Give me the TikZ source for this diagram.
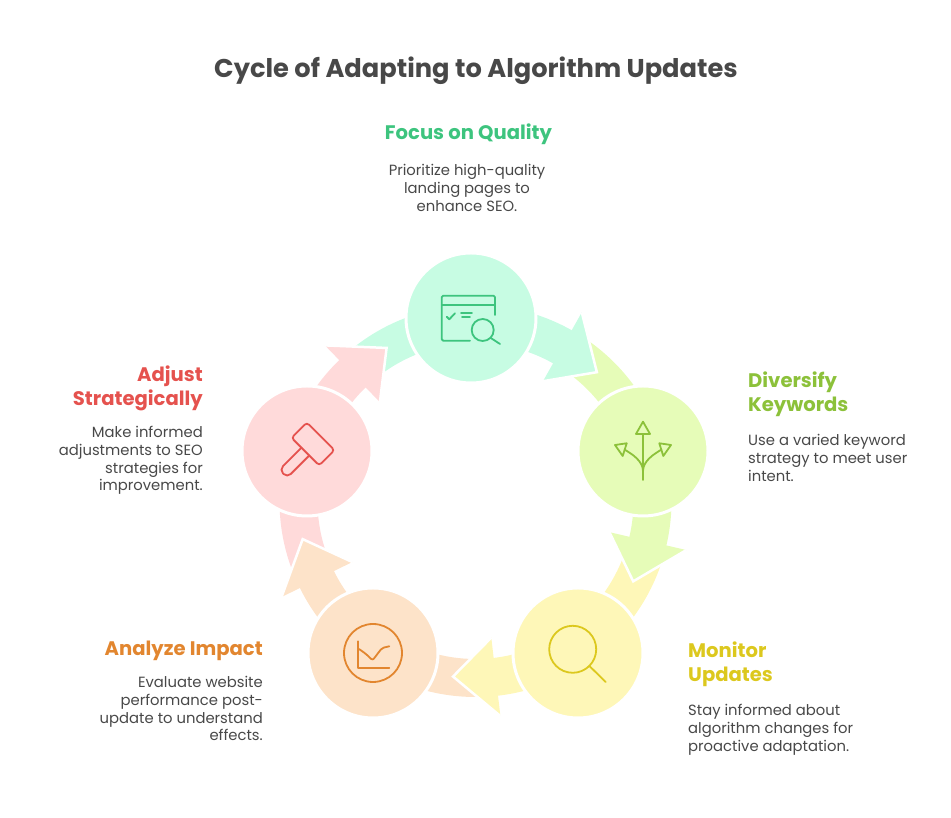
\documentclass[tikz,border=0pt]{standalone}
\usepackage{fontspec}
\setmainfont{Poppins}
\definecolor{mintF}{HTML}{C7FCE3}
\definecolor{mintD}{HTML}{3DC47E}
\definecolor{limeF}{HTML}{E6FCB8}
\definecolor{limeD}{HTML}{8CC13A}
\definecolor{yellF}{HTML}{FEF7B8}
\definecolor{yellD}{HTML}{DCC81E}
\definecolor{peachF}{HTML}{FDE3C9}
\definecolor{peachD}{HTML}{E2862F}
\definecolor{pinkF}{HTML}{FFDADA}
\definecolor{pinkD}{HTML}{E5524E}
\definecolor{textgray}{HTML}{484848}
\begin{document}
\begin{tikzpicture}[x=1pt,y=1pt,
  ring/.style={circle,draw=white,line width=3pt,minimum size=130pt,inner sep=0pt},
  icon/.style={line width=1.8pt,line cap=round,line join=round},
  headtext/.style={font=\bfseries\fontsize{19.6}{24}\selectfont,inner sep=0pt},
  desctext/.style={font=\fontsize{14.8}{17.8}\selectfont,text=textgray,inner sep=0pt}]
\useasboundingbox (0,0) rectangle (951,818);
\coordinate (nodeHub) at (475.5,317);
%bands
\begin{scope}[shift={(nodeHub)}]
\fill[mintF] (129.45:158) arc[start angle=129.45,end angle=59.5,radius=158] -- (59.5:196) arc[start angle=59.5,end angle=129.45,radius=196] -- cycle;
\fill[limeF] (56:158) arc[start angle=56,end angle=-14.2,radius=158] -- (-14.2:196) arc[start angle=-14.2,end angle=56,radius=196] -- cycle;
\fill[yellF] (-17.7:158) arc[start angle=-17.7,end angle=-84.5,radius=158] -- (-84.5:196) arc[start angle=-84.5,end angle=-17.7,radius=196] -- cycle;
\fill[peachF] (-88:158) arc[start angle=-88,end angle=-154.75,radius=158] -- (-154.75:196) arc[start angle=-154.75,end angle=-88,radius=196] -- cycle;
\fill[pinkF] (201.75:158) arc[start angle=201.75,end angle=132.95,radius=158] -- (132.95:196) arc[start angle=132.95,end angle=201.75,radius=196] -- cycle;
%heads
\fill[mintF] (60.6:137.5) -- (46.7:177) -- (60.6:216.5) -- cycle;
\draw[white,line width=2.5pt] (60.6:137.5) -- (46.7:177) -- (60.6:216.5);
\fill[limeF] (-13.1:137.5) -- (-27:177) -- (-13.1:216.5) -- cycle;
\draw[white,line width=2.5pt] (-13.1:137.5) -- (-27:177) -- (-13.1:216.5);
\fill[yellF] (-83.4:137.5) -- (-97.3:177) -- (-83.4:216.5) -- cycle;
\draw[white,line width=2.5pt] (-83.4:137.5) -- (-97.3:177) -- (-83.4:216.5);
\fill[peachF] (206.35:137.5) -- (192.45:177) -- (206.35:216.5) -- cycle;
\draw[white,line width=2.5pt] (206.35:137.5) -- (192.45:177) -- (206.35:216.5);
\fill[pinkF] (134.05:137.5) -- (120.15:177) -- (134.05:216.5) -- cycle;
\draw[white,line width=2.5pt] (134.05:137.5) -- (120.15:177) -- (134.05:216.5);
\end{scope}
%circles
\path (471,500) node[ring,fill=mintF] (nodeFocus) {};
\path (643,367) node[ring,fill=limeF] (nodeDiversify) {};
\path (578,165) node[ring,fill=yellF] (nodeMonitor) {};
\path (373,165) node[ring,fill=peachF] (nodeAnalyze) {};
\path (307,367) node[ring,fill=pinkF] (nodeAdjust) {};
%icons
\begin{scope}[shift={(nodeFocus)}]
\draw[icon,mintD,rounded corners=1.5] (-1,-22.7) -- (-29.3,-22.7) -- (-29.3,22.3) -- (24,22.3) -- (24,3);
\draw[icon,mintD] (-29.3,13) -- (24,13);
\draw[icon,mintD] (-24.3,1.3) -- (-21.7,-1.3) -- (-16,4.7);
\draw[icon,mintD] (-10,5.3) -- (1,5.3) (-9,1.3) -- (-1,1.3);
\draw[icon,mintD] (11.7,-12) circle[radius=11];
\draw[icon,mintD] (19.5,-19.8) -- (29,-26);
\end{scope}
\begin{scope}[shift={(nodeDiversify)}]
\draw[icon,limeD] (0,-29) -- (0,17);
\draw[icon,limeD] (0,29.3) -- (-7,17) -- (7,17) -- cycle;
\draw[icon,limeD] (0,-20) .. controls (0,-10) and (-11,-3) .. (-18.3,1.3);
\draw[icon,limeD] (0,-20) .. controls (0,-10) and (11,-3) .. (18.3,1.3);
\draw[icon,limeD] (-28,6) -- (-16.3,7.7) -- (-20.3,-5) -- cycle;
\draw[icon,limeD] (28,6) -- (16.3,7.7) -- (20.3,-5) -- cycle;
\end{scope}
\begin{scope}[shift={(nodeMonitor)}]
\draw[icon,yellD] (-5.3,3.7) circle[radius=23.5];
\draw[icon,yellD] (11.3,-12.9) -- (27.7,-29);
\end{scope}
\begin{scope}[shift={(nodeAnalyze)}]
\draw[icon,peachD] (0,0) circle[radius=29];
\draw[icon,peachD] (-15,11.7) -- (-15,-15) -- (16.3,-15);
\draw[icon,peachD,rounded corners=2] (-14,4) -- (-7,-1) -- (-0.4,-7.3) -- (9,5) -- (16.3,6.7);
\end{scope}
\begin{scope}[shift={(nodeAdjust)}]
\begin{scope}[shift={(6,7)},rotate=-45]
\draw[icon,pinkD,rounded corners=3] (-19.5,-10.8) -- (19.5,-10.8) -- (19.5,10.8) -- (-19.5,10.8) -- cycle;
\draw[icon,pinkD,rounded corners=5] (-5.5,-10.8) -- (-5.5,-42) -- (5.5,-42) -- (5.5,-10.8);
\end{scope}
\end{scope}
%texts
\path (476,740) node[anchor=base,inner sep=0pt,font=\bfseries\fontsize{25.7}{30}\selectfont,text=textgray] (nodeTitle) {Cycle of Adapting to Algorithm Updates};
\path (468.5,678) node[headtext,anchor=base,text=mintD] (nodeFocusHead) {Focus on Quality};
\path (467,654) node[desctext,anchor=north,align=center] (nodeFocusText) {Prioritize high-quality\\landing pages to\\enhance SEO.};
\path (748,446) node[headtext,anchor=north west,align=left,text=limeD] (nodeDiversifyHead) {Diversify\\Keywords};
\path (748,384) node[desctext,anchor=north west,align=left] (nodeDiversifyText) {Use a varied keyword\\strategy to meet user\\intent.};
\path (688,176) node[headtext,anchor=north west,align=left,text=yellD] (nodeMonitorHead) {Monitor\\Updates};
\path (688,114) node[desctext,anchor=north west,align=left] (nodeMonitorText) {Stay informed about\\algorithm changes for\\proactive adaptation.};
\path (263,162) node[headtext,anchor=base east,text=peachD] (nodeAnalyzeHead) {Analyze Impact};
\path (263,142) node[desctext,anchor=north east,align=right] (nodeAnalyzeText) {Evaluate website\\performance post-\\update to understand\\effects.};
\path (203,452) node[headtext,anchor=north east,align=right,text=pinkD] (nodeAdjustHead) {Adjust\\Strategically};
\path (203,392) node[desctext,anchor=north east,align=right] (nodeAdjustText) {Make informed\\adjustments to SEO\\strategies for\\improvement.};
\end{tikzpicture}
\end{document}
